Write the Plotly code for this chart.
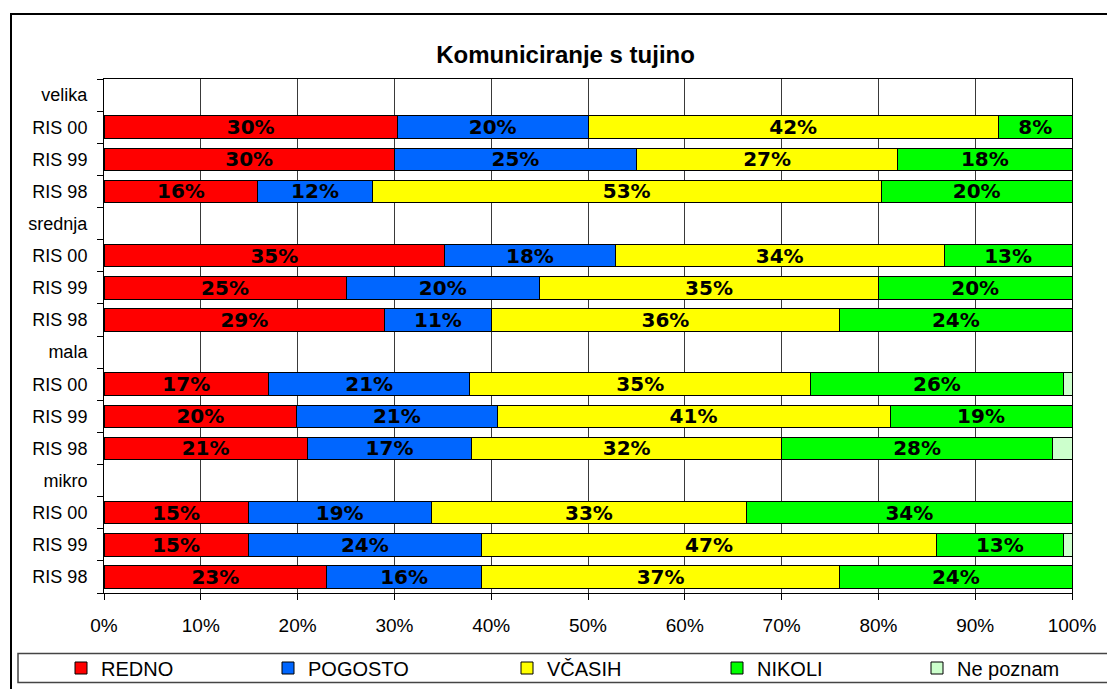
import plotly.graph_objects as go

# ---------------- data ----------------
row_labels = ["velika", "RIS 00", "RIS 99", "RIS 98",
              "srednja", "RIS 00", "RIS 99", "RIS 98",
              "mala", "RIS 00", "RIS 99", "RIS 98",
              "mikro", "RIS 00", "RIS 99", "RIS 98"]

series_names = ["REDNO", "POGOSTO", "VČASIH", "NIKOLI", "Ne poznam"]

redno = [None, 30.3, 30.0, 15.9, None, 35.2, 25.0, 29.0, None, 17.0, 19.9, 21.0, None, 14.9, 14.9, 23.0]
pogosto = [None, 19.7, 25.0, 11.8, None, 17.6, 20.0, 11.0, None, 20.8, 20.7, 17.0, None, 18.9, 24.1, 16.0]
vcasih = [None, 42.4, 27.0, 52.6, None, 34.0, 35.0, 36.0, None, 35.2, 40.6, 32.0, None, 32.6, 47.0, 37.0]
nikoli = [None, 7.6, 18.0, 19.7, None, 13.2, 20.0, 24.0, None, 26.1, 18.8, 28.0, None, 33.6, 13.1, 24.0]
ne_poznam = [None, None, None, None, None, None, None, None, None, 0.9, None, 2.0, None, None, 0.9, None]

x_ticks = [0, 10, 20, 30, 40, 50, 60, 70, 80, 90, 100]

series_values = [redno, pogosto, vcasih, nikoli, ne_poznam]
colors = ["#FF0000", "#0066FF", "#FFFF00", "#00FF00", "#CCFFCC"]

# ---------------- layout geometry ----------------
W, H = 1107, 689
L, R, T, B = 104, 35, 79, 96
pw, ph = W - L - R, H - T - B


def px2x(px):
    return (px - L) / pw


def py2y(py):
    return (H - B - py) / ph


# legend entry positions (pixel x of the symbol centre)
legend_sym_px = [81, 288, 527, 737, 937]

rows = list(range(len(row_labels)))

fig = go.Figure()
legend_layouts = {}
for i, (name, vals, col) in enumerate(zip(series_names, series_values, colors)):
    show_text = name != "Ne poznam"
    lg = "legend" if i == 0 else f"legend{i + 1}"
    fig.add_trace(go.Bar(
        name=name,
        y=rows,
        x=vals,
        orientation="h",
        legend=lg,
        marker=dict(color=col, line=dict(color="black", width=1)),
        texttemplate="%{x:.0f}%" if show_text else None,
        textposition="inside" if show_text else "none",
        insidetextanchor="middle",
        textangle=0,
        constraintext="none",
        textfont=dict(family="DejaVu Sans", size=20, color="black", weight="bold"),
        hoverinfo="skip",
    ))
    legend_layouts[lg] = dict(
        orientation="h",
        x=px2x(legend_sym_px[i] - 20), xanchor="left",
        y=py2y(668), yanchor="middle",
        bgcolor="rgba(0,0,0,0)",
        borderwidth=0,
        font=dict(size=20, family="Liberation Sans, Arial, sans-serif", color="black"),
        itemclick=False, itemdoubleclick=False,
    )

fig.update_layout(
    width=W, height=H,
    margin=dict(l=L, r=R, t=T, b=B, pad=0, autoexpand=False),
    paper_bgcolor="white",
    plot_bgcolor="white",
    barmode="stack",
    bargap=0.3,
    font=dict(family="Liberation Sans, Arial, sans-serif", color="black"),
    title=dict(
        text="<b>Komuniciranje s tujino</b>",
        font=dict(family="Liberation Sans, Arial, sans-serif", size=24, color="black"),
        x=565.6 / W, xanchor="center", xref="container",
        y=1 - 55 / H, yanchor="middle", yref="container",
    ),
    xaxis=dict(
        range=[0, 100],
        tickmode="array",
        tickvals=x_ticks,
        ticktext=[f"{v}%" for v in x_ticks],
        ticks="outside", ticklen=6, tickcolor="black", tickwidth=1,
        tickfont=dict(size=19, family="Liberation Sans, Arial, sans-serif"),
        ticklabelstandoff=9,
        showgrid=True, gridcolor="#3a3a3a", gridwidth=1,
        showline=True, linecolor="black", linewidth=1, mirror=True,
        zeroline=False,
        automargin=False,
        fixedrange=True,
    ),
    yaxis=dict(
        range=[len(row_labels) - 0.5, -0.5],
        tickmode="array",
        tickvals=rows,
        ticktext=row_labels,
        ticks="",
        tickfont=dict(size=18, family="Liberation Sans, Arial, sans-serif"),
        ticklabelstandoff=12,
        minor=dict(tick0=0.5, dtick=1, ticks="outside", ticklen=6,
                   tickcolor="black", tickwidth=1, showgrid=False),
        showgrid=False,
        showline=True, linecolor="black", linewidth=1, mirror=True,
        zeroline=False,
        automargin=False,
        fixedrange=True,
    ),
    showlegend=True,
    shapes=[
        # outer chart frame
        dict(type="rect", xref="paper", yref="paper",
             x0=px2x(11), x1=px2x(1112), y0=py2y(694), y1=py2y(14),
             line=dict(color="black", width=2), fillcolor="rgba(0,0,0,0)", layer="above"),
        # legend frame
        dict(type="rect", xref="paper", yref="paper",
             x0=px2x(18), x1=px2x(1112), y0=py2y(682.5), y1=py2y(653.5),
             line=dict(color="#444444", width=1.5), fillcolor="rgba(0,0,0,0)", layer="above"),
    ],
    **legend_layouts,
)

fig.write_html(
    "out.html",
    config={"displayModeBar": False, "staticPlot": True},
    post_script="document.body.style.margin='0';document.body.style.overflow='hidden';",
)
